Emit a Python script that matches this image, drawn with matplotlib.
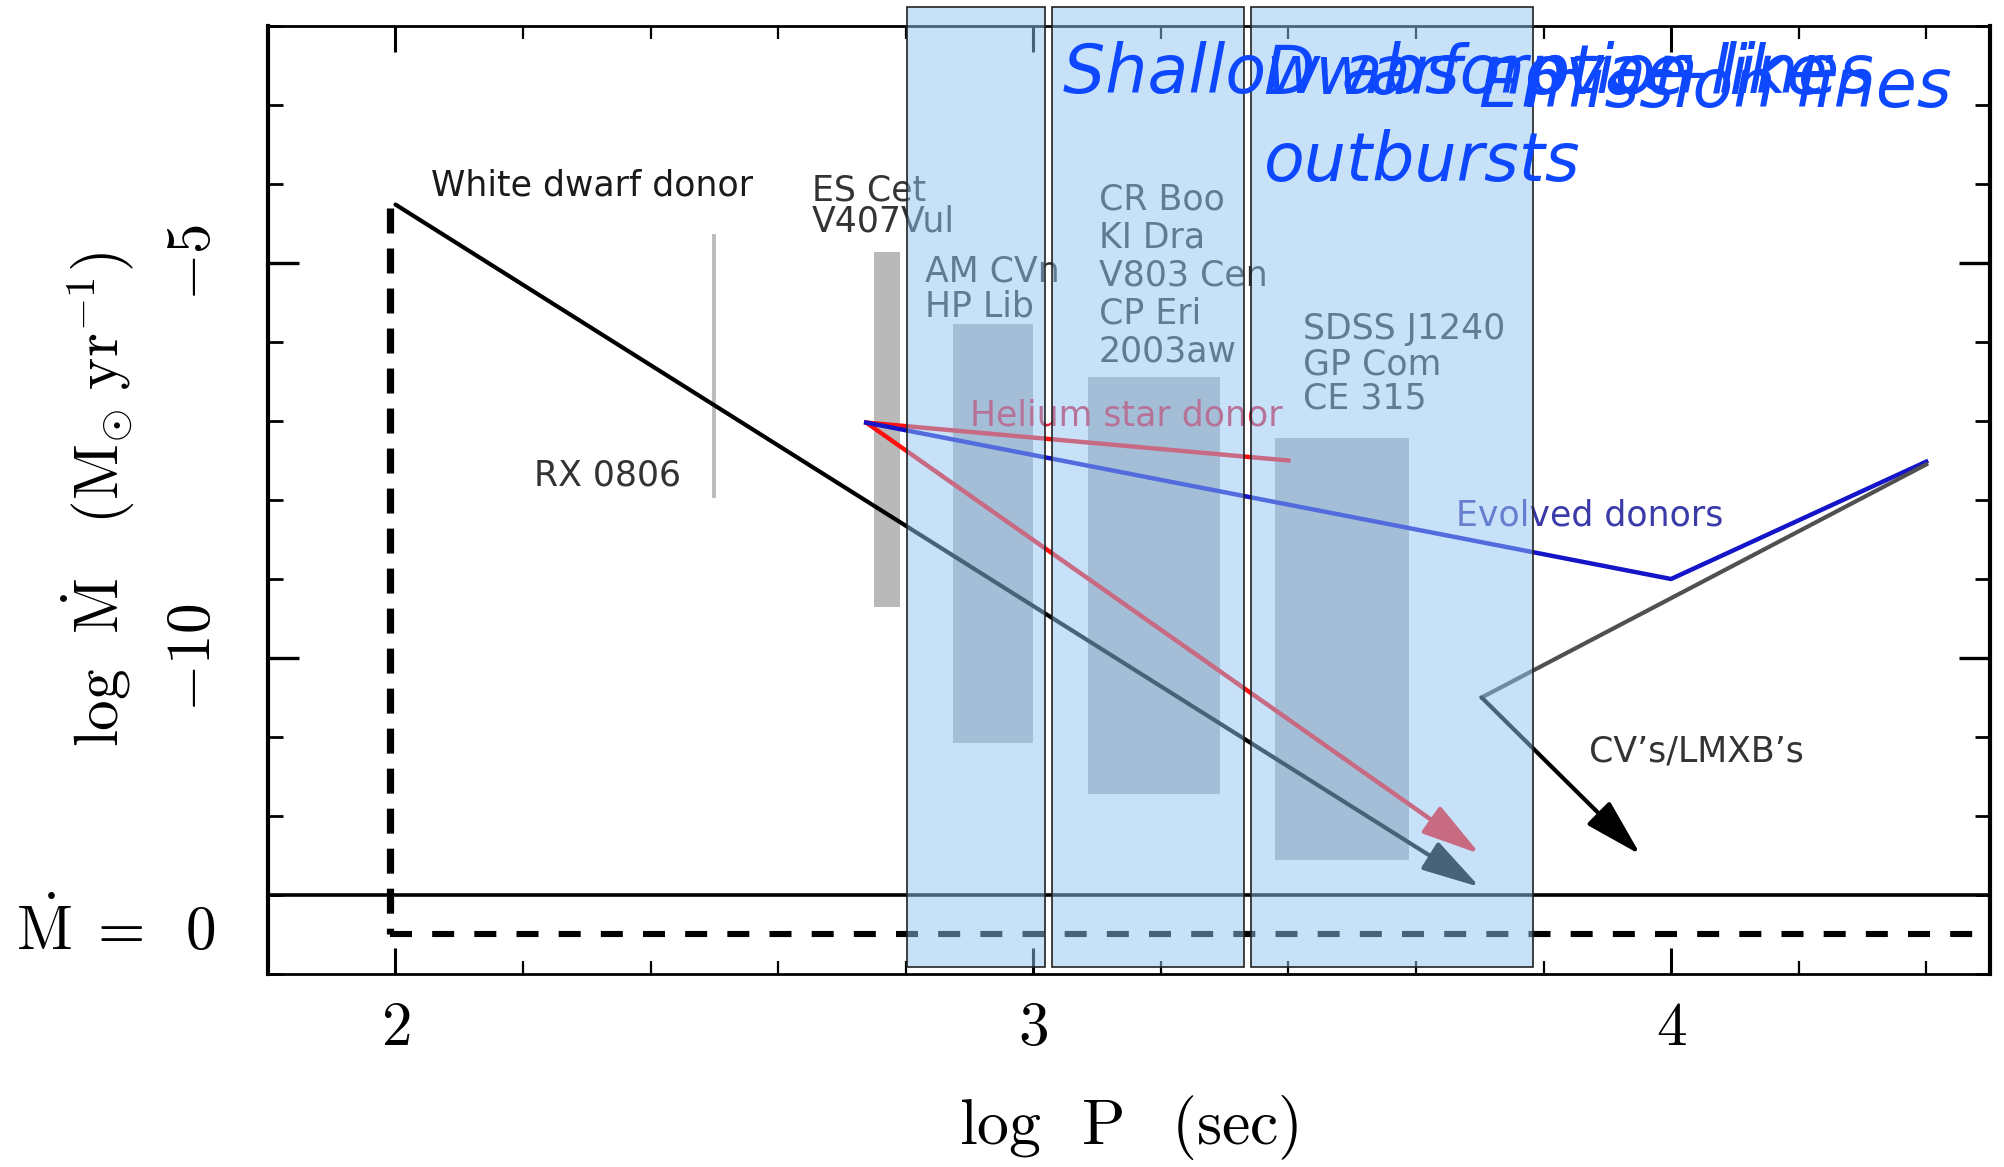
import numpy as np
import matplotlib.pyplot as plt
import matplotlib.colors as mcolors
from matplotlib.ticker import MultipleLocator

plt.rcParams['mathtext.fontset'] = 'cm'
plt.rcParams['font.family'] = ['DejaVu Sans']

# axes ranges and ticks (log P in sec, log Mdot in Msun/yr)
x_lim = (1.8, 4.5)
y_lim = (-14.0, -2.0)
x_major = [2, 3, 4]
y_major = [-5, -10]

# Mdot = 0 reference lines and minimum period
mdot_zero = -13.0
mdot_zero_dash = -13.5
p_min = 1.992
p_min_top = -4.30

# evolutionary tracks
wd_start = (2.0, -4.26)
wd_end = (3.70, -12.90)
he_start = (2.738, -7.02)
he_short_p = [2.738, 3.40]
he_short_m = [-7.02, -7.50]
he_end = (3.70, -12.48)
evolved_p = [2.738, 4.0, 4.40]
evolved_m = [-7.02, -9.0, -7.515]
cv_p = [4.40, 3.703]
cv_m = [-7.55, -10.50]
cv_end = (3.952, -12.49)

# RX 0806 range
rx_p = [2.50, 2.50]
rx_m = [-4.66, -7.95]

# observed systems (grey boxes)
bar_p0 = [2.751, 2.874, 3.086, 3.379]
bar_p1 = [2.791, 3.000, 3.292, 3.589]
bar_m0 = [-9.35, -11.07, -11.72, -12.56]
bar_m1 = [-4.86, -5.77, -6.44, -7.21]

# highlighted period ranges
span_p0 = [2.802, 3.030, 3.342]
span_p1 = [3.019, 3.330, 3.783]
span_m0, span_m1 = -13.91, -1.756
span_labels = ['Shallow absorption lines', 'Dwarf novae-like\noutbursts', 'Emission lines']
span_label_p = [3.047, 3.362, 3.699]
span_label_m = [-2.190, -2.203, -2.371]

fig = plt.figure(figsize=(10.02, 5.835), dpi=200)
ax = fig.add_axes([0.1337, 0.1654, 0.8593, 0.8123])
ax.set_xlim(*x_lim)
ax.set_ylim(*y_lim)

ax.set_xticks(x_major, labels=[f'${v}$' for v in x_major])
ax.set_yticks(y_major, labels=[f'${v}$' for v in y_major])
ax.xaxis.set_minor_locator(MultipleLocator(0.2))
ax.yaxis.set_minor_locator(MultipleLocator(1))
ax.tick_params(which='both', direction='in', top=True, right=True, labelsize=22)
ax.tick_params(axis='x', which='major', length=9.4, width=1.1, pad=9)
ax.tick_params(axis='x', which='minor', length=4.7, width=0.8)
ax.tick_params(axis='y', which='major', length=11, width=1.2, pad=16, labelrotation=90)
ax.tick_params(axis='y', which='minor', length=5.4, width=1.0)
for lbl in ax.get_yticklabels():
    lbl.set_va('center')
for s in ['left', 'right']:
    ax.spines[s].set_linewidth(1.5)
for s in ['top', 'bottom']:
    ax.spines[s].set_linewidth(1.0)

# reference lines
ax.axhline(mdot_zero, color='black', lw=1.3, zorder=3)
ax.plot([p_min, x_lim[1]], [mdot_zero_dash, mdot_zero_dash], color='black', lw=2.2,
        dashes=(3.6, 3.3), zorder=3)
ax.plot([p_min, p_min], [p_min_top, mdot_zero_dash], color='black', lw=2.6,
        dashes=(3.46, 2.08), zorder=3)

# grey boxes and RX 0806
ax.bar(bar_p0, np.subtract(bar_m1, bar_m0), width=np.subtract(bar_p1, bar_p0),
       bottom=bar_m0, align='edge', color='#b9b9b9', lw=0, zorder=2)
ax.plot(rx_p, rx_m, color='#bcbcbc', lw=1.4, zorder=2)

head = '-|>,head_length=0.9,head_width=0.25'
def arrow(start, end, color, lw):
    ax.annotate('', xy=end, xytext=start, zorder=3,
                arrowprops=dict(arrowstyle=head, color=color, lw=lw,
                                shrinkA=0, shrinkB=0, mutation_scale=20))

arrow(wd_start, wd_end, 'black', 1.5)
ax.plot(he_short_p, he_short_m, color='#ff1010', lw=1.6, zorder=3)
arrow(he_start, he_end, '#ff1010', 1.6)
ax.plot(evolved_p, evolved_m, color='#1414c8', lw=1.6, zorder=3)
ax.plot(cv_p, cv_m, color='#505050', lw=1.5, zorder=3)
arrow((cv_p[-1], cv_m[-1]), cv_end, 'black', 1.5)

# labels of the original diagram
lab = dict(fontsize=12.5, ha='left', va='top', zorder=3)
ax.text(2.055, -3.80, 'White dwarf donor', color='#1a1a1a', **lab)
ax.text(2.653, -3.865, 'ES Cet\nV407Vul', color='#333333', linespacing=0.89, **lab)
ax.text(2.830, -4.896, 'AM CVn\nHP Lib', color='#333333', linespacing=1.03, **lab)
ax.text(3.103, -3.975, 'CR Boo\nKI Dra\nV803 Cen\nCP Eri\n2003aw', color='#333333',
        linespacing=1.15, **lab)
ax.text(3.423, -5.624, 'SDSS J1240\nGP Com\nCE 315', color='#333333', linespacing=1.03, **lab)
ax.text(2.901, -6.709, 'Helium star donor', color='#e0203c', **lab)
ax.text(2.2165, -7.472, 'RX 0806', color='#333333', **lab)
ax.text(3.663, -7.978, 'Evolved donors', color='#3a3aa8', **lab)
ax.text(3.872, -10.968, 'CV\u2019s/LMXB\u2019s', color='#333333', **lab)

# axis labels
ax.set_xlabel(r'$\log\;\;\mathrm{P}\;\;\;(\mathrm{sec})$', fontsize=23)
ax.xaxis.set_label_coords(0.5, -0.126)
ax.set_ylabel(r'$\log\ \,\dot{\mathrm{M}}\quad(\mathrm{M}_{\odot}\;\mathrm{yr}^{-1})$', fontsize=22)
ax.yaxis.set_label_coords(-0.076, 0.5)
ax.text(-0.1463, -13.70, r'$\dot{\mathrm{M}}\;=\;\;0$', fontsize=22, ha='left', va='baseline',
        transform=ax.get_yaxis_transform(), clip_on=False)

# highlighted ranges on top
face = mcolors.to_rgba('#90c4f5', 0.5)
for p0, p1 in zip(span_p0, span_p1):
    ax.add_patch(plt.Rectangle((p0, span_m0), p1 - p0, span_m1 - span_m0, facecolor=face,
                               edgecolor='#222222', lw=0.6, zorder=5, clip_on=False))
for t, p, m in zip(span_labels, span_label_p, span_label_m):
    ax.text(p, m, t, fontsize=24, style='italic', color='#0d47ff', ha='left', va='top',
            linespacing=1.4, zorder=6, clip_on=False)

fig.savefig('out.png', dpi=200, facecolor='white')
